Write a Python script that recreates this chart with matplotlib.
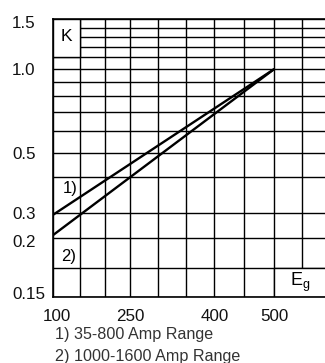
import numpy as np
import matplotlib
matplotlib.use("Agg")
import matplotlib.pyplot as plt
from matplotlib.patches import Rectangle
from matplotlib.ticker import FixedLocator, FixedFormatter
import matplotlib.transforms as mtransforms

FONT = ['Liberation Sans', 'DejaVu Sans']
plt.rcParams['font.family'] = FONT
plt.rcParams['mathtext.default'] = 'regular'

# ---- data ----
eg_values = [100, 500]
k_range1 = [0.291, 1.0]   # 1) 35-800 Amp Range
k_range2 = [0.211, 1.0]   # 2) 1000-1600 Amp Range

x_tick_values = [100, 250, 400, 500]
x_tick_labels = ['100', '250', '400', '500']
y_tick_values = [1.5, 1.0, 0.5, 0.3, 0.2, 0.15]
y_tick_labels = ['1.5', '1.0', '0.5', '0.3', '0.2', '0.15']
x_grid = [100, 150, 200, 250, 300, 350, 400, 450, 500]
y_grid = [0.15, 0.175, 0.2, 0.3, 0.4, 0.5, 0.6, 0.7, 0.8, 0.9, 1.0, 1.1, 1.2, 1.3, 1.4, 1.5]
legend_lines = ['1) 35-800 Amp Range', '2) 1000-1600 Amp Range']

# ---- non-uniform chart scales (as printed on the original nomogram) ----
xa_v = np.array([100, 150, 200, 250, 300, 350, 400, 450, 500, 550], float)
xa_p = np.array([53.3, 80, 105, 130, 157.7, 185.7, 214.3, 244.3, 274.3, 301.7])
ya_v = np.log10(np.array([0.15, 0.175, 0.2, 0.3, 0.4, 0.5, 1.0, 1.5]))
ya_p = -np.array([297.3, 267.7, 238.3, 212.7, 177.3, 152.5, 69, 19])


def extend(v, p):
    s0 = (p[1] - p[0]) / (v[1] - v[0])
    s1 = (p[-1] - p[-2]) / (v[-1] - v[-2])
    big = 1e4
    v2 = np.concatenate([[v[0] - big], v, [v[-1] + big]])
    p2 = np.concatenate([[p[0] - big * s0], p, [p[-1] + big * s1]])
    return v2, p2


xv, xp = extend(xa_v, xa_p)
yv, yp = extend(ya_v, ya_p)


def xf(v):
    return np.interp(np.asarray(v, float), xv, xp)


def xi(p):
    return np.interp(np.asarray(p, float), xp, xv)


def yf(v):
    v = np.clip(np.asarray(v, float), 1e-6, None)
    return np.interp(np.log10(v), yv, yp)


def yi(p):
    return 10 ** np.interp(np.asarray(p, float), yp, yv)


W, H = 325, 363
fig = plt.figure(figsize=(W / 100, H / 100), dpi=100)
renderer = fig.canvas.get_renderer()


def fit_size(s, target_px, **kw):
    t = fig.text(0, 0, s, fontsize=10, **kw)
    w = t.get_window_extent(renderer).width
    t.remove()
    return 10 * target_px / w


ax = fig.add_axes([53.3 / W, 1 - 297.3 / H, 1 - 53.3 / W, (297.3 - 19) / H])
ax.set_xscale('function', functions=(xf, xi))
ax.set_yscale('function', functions=(yf, yi))
ax.set_xlim(100, float(xi(325)))
ax.set_ylim(0.15, 1.5)

grid_lw = 1.0
for gx in x_grid:
    ax.axvline(gx, color='black', lw=grid_lw, zorder=1)
ax.axvline(550, color='black', lw=grid_lw, zorder=1)
for gy in y_grid:
    ax.axhline(gy, color='black', lw=grid_lw, zorder=1)

# K box and Eg box (cells without inner grid lines)
ax.add_patch(Rectangle((100, 1.1), 50, 0.4, facecolor='white', edgecolor='black',
                       lw=grid_lw, zorder=2))
ax.add_patch(Rectangle((500, 0.15), 200, 0.025, facecolor='white', edgecolor='black',
                       lw=grid_lw, zorder=2, clip_on=True))

ax.plot(eg_values, k_range1, color='black', lw=1.7, zorder=3, solid_capstyle='butt')
ax.plot(eg_values, k_range2, color='black', lw=1.7, zorder=3, solid_capstyle='butt')

ax.text(125, 1.3, 'K', ha='center', va='center', fontsize=12.5, zorder=4)
ax.text(131, 0.366, '1)', ha='center', va='center', fontsize=12, zorder=4)
ax.text(128, 0.184, '2)', ha='center', va='center', fontsize=12, zorder=4)
ax.text(547, 0.1625, r'$\mathregular{E_g}$', ha='center', va='center', fontsize=13, zorder=4)

for side in ['left', 'top', 'bottom']:
    ax.spines[side].set_linewidth(1.2)
    ax.spines[side].set_zorder(5)
ax.spines['right'].set_visible(False)

ax.xaxis.set_major_locator(FixedLocator(x_tick_values))
ax.xaxis.set_major_formatter(FixedFormatter(x_tick_labels))
ax.yaxis.set_major_locator(FixedLocator(y_tick_values))
ax.yaxis.set_major_formatter(FixedFormatter(y_tick_labels))
ax.xaxis.set_minor_locator(FixedLocator([]))
ax.yaxis.set_minor_locator(FixedLocator([]))

tick_fs = fit_size('100', 28.3)
ax.tick_params(axis='both', length=0, labelsize=tick_fs, colors='#111111')
ax.tick_params(axis='x', pad=8.5)
ax.tick_params(axis='y', pad=(53.3 - 12.0) * 0.72)
for t in ax.get_yticklabels():
    t.set_horizontalalignment('left')

fig.canvas.draw()


def shift(label, dx_px, dy_px):
    label.set_transform(label.get_transform() +
                        mtransforms.ScaledTranslation(dx_px / 100, dy_px / 100, fig.dpi_scale_trans))


shift(ax.get_xticklabels()[0], 4, 0)
ylabels = ax.get_yticklabels()
shift(ylabels[0], 0, -3)   # 1.5
shift(ylabels[4], 0, -3)   # 0.2
shift(ylabels[5], 0, 4)    # 0.15

leg_fs = fit_size(legend_lines[0], 163) * 0.97
fig.text(55 / W, 1 - 335 / H, legend_lines[0], ha='left', va='center', fontsize=leg_fs, color='#333333')
fig.text(55 / W, 1 - 356.5 / H, legend_lines[1], ha='left', va='center', fontsize=leg_fs, color='#333333')

fig.savefig('out.png', dpi=100)
